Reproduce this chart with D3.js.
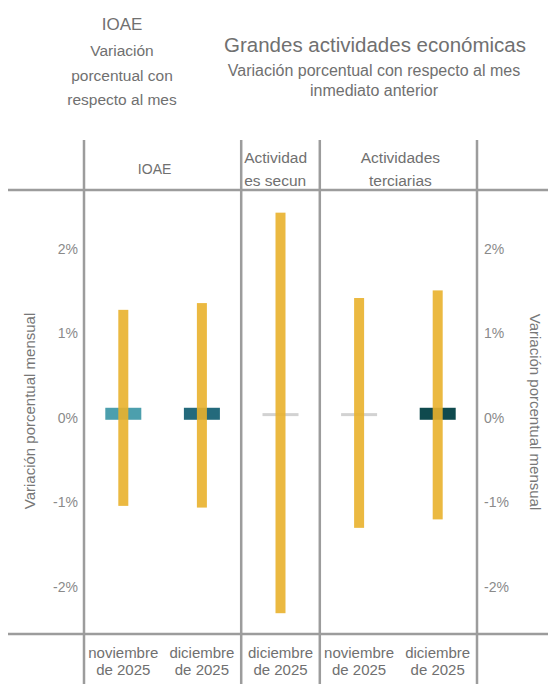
<!DOCTYPE html>
<html><head><meta charset="utf-8">
<script src="https://cdn.jsdelivr.net/npm/d3@7"></script>
<style>
html,body{margin:0;padding:0;background:#fff;}
svg{display:block;font-family:"Liberation Sans",Arial,sans-serif;}
</style></head>
<body>
<svg id="c" width="548" height="688"></svg>
<script>
// ---- data ----
const ids = ["ioae_nov","ioae_dic","sec_dic","ter_nov","ter_dic"];
const categories = [["noviembre","de 2025"],["diciembre","de 2025"],["diciembre","de 2025"],["noviembre","de 2025"],["diciembre","de 2025"]];
const lower = [-1.04, -1.06, -2.31, -1.30, -1.20];
const upper = [1.28, 1.36, 2.43, 1.42, 1.51];
const estimate = [0.05, 0.05, 0.04, 0.04, 0.05];
const markerColors = ["#4c9fad", "#246a7c", "#d2d2d2", "#d2d2d2", "#0f4a4e"];
const markerKind = ["box","box","line","line","box"];
const tickValues = [-2, -1, 0, 1, 2];
const tickLabels = ["-2%", "-1%", "0%", "1%", "2%"];
const groups = [
  {label:["IOAE"], from:0, to:1},
  {label:["Actividad","es secun"], from:2, to:2},
  {label:["Actividades","terciarias"], from:3, to:4}
];
const leftTitle = ["IOAE","Variación","porcentual con","respecto al mes"];
const rightTitle = "Grandes actividades económicas";
const rightSub = ["Variación porcentual con respecto al mes","inmediato anterior"];
const axisTitle = "Variación porcentual mensual";

// ---- chart ----
const svg = d3.select("#c");
const x = d3.scaleBand().domain(ids).range([84, 477]);
const y = d3.scaleLinear().domain([-2, 2]).range([587, 249]);
const gray = "#9c9c9c";
const textCol = "#707070";

// horizontal rules
[190, 634].forEach(v => svg.append("line").attr("x1", 8).attr("x2", 548)
  .attr("y1", v).attr("y2", v).attr("stroke", gray).attr("stroke-width", 2.5));
// vertical rules
const vx = [x(ids[0]), x(ids[2]), x(ids[3]), x(ids[4]) + x.bandwidth()];
vx.forEach(v => svg.append("line").attr("x1", v).attr("x2", v)
  .attr("y1", 140).attr("y2", 684).attr("stroke", gray).attr("stroke-width", 2.5));

// titles
const lt = svg.append("text").attr("text-anchor","middle").attr("fill", textCol);
leftTitle.forEach((t,i) => lt.append("tspan").attr("x", 122).attr("y", [30, 56, 81, 105][i])
  .attr("font-size", i===0 ? 17 : 15.5).text(t));
svg.append("text").attr("x", 375).attr("y", 52).attr("text-anchor","middle")
  .attr("font-size", 20.5).attr("fill", textCol).text(rightTitle);
rightSub.forEach((t,i) => svg.append("text").attr("x", 374).attr("y", [76, 96][i])
  .attr("text-anchor","middle").attr("font-size", 16).attr("fill", textCol).text(t));

// group headers
groups.forEach((g, gi) => {
  const x0 = x(ids[g.from]), x1 = x(ids[g.to]) + x.bandwidth();
  const cx = gi === 0 ? (x0 + x1)/2 - 8 : (x0 + x1)/2 + 2;
  g.label.forEach((t, i) => {
    const yy = g.label.length === 1 ? 174 : [163, 186][i];
    const tx = svg.append("text").attr("y", yy).attr("font-size", gi === 0 ? 14 : 15.5)
      .attr("fill", textCol).text(t);
    if (gi === 1) tx.attr("x", x0 + 3).attr("text-anchor", "start");
    else tx.attr("x", cx).attr("text-anchor", "middle");
  });
});

// axes
const axL = d3.axisLeft(y).tickValues(tickValues).tickFormat((d,i)=>tickLabels[i]).tickSize(0).tickPadding(0);
const gL = svg.append("g").attr("transform", "translate(78,0)").call(axL);
const axR = d3.axisRight(y).tickValues(tickValues).tickFormat((d,i)=>tickLabels[i]).tickSize(0).tickPadding(0);
const gR = svg.append("g").attr("transform", "translate(484,0)").call(axR);
[gL, gR].forEach(g => {
  g.select(".domain").remove();
  g.selectAll("text").attr("font-size", 14).attr("fill", "#8a8a8a").attr("font-family", "Liberation Sans, Arial, sans-serif");
});

// axis titles
svg.append("text").attr("transform", "translate(35,411) rotate(-90)").attr("text-anchor","middle")
  .attr("font-size", 15).attr("fill", "#777").text(axisTitle);
svg.append("text").attr("transform", "translate(530,412) rotate(90)").attr("text-anchor","middle")
  .attr("font-size", 15).attr("fill", "#777").text(axisTitle);

// markers
const cxOf = id => x(id) + x.bandwidth()/2;
ids.forEach((id, i) => {
  if (markerKind[i] === "box") {
    svg.append("rect").attr("x", cxOf(id) - 18).attr("width", 36)
      .attr("y", y(estimate[i]) - 6).attr("height", 12).attr("fill", markerColors[i]);
  } else {
    svg.append("rect").attr("x", cxOf(id) - 18).attr("width", 36)
      .attr("y", y(estimate[i]) - 1.5).attr("height", 3).attr("fill", markerColors[i]);
  }
});

// bars (intervals)
svg.selectAll("rect.bar").data(ids).join("rect").attr("class","bar")
  .attr("x", d => cxOf(d) - 5).attr("width", 10)
  .attr("y", (d,i) => y(upper[i])).attr("height", (d,i) => y(lower[i]) - y(upper[i]))
  .attr("fill", "#e9b12c").attr("opacity", 0.9);

// category labels
categories.forEach((c, i) => {
  c.forEach((t, j) => svg.append("text").attr("x", cxOf(ids[i])).attr("y", [658, 675][j])
    .attr("text-anchor","middle").attr("font-size", 15).attr("fill", textCol).text(t));
});
</script>
</body></html>
